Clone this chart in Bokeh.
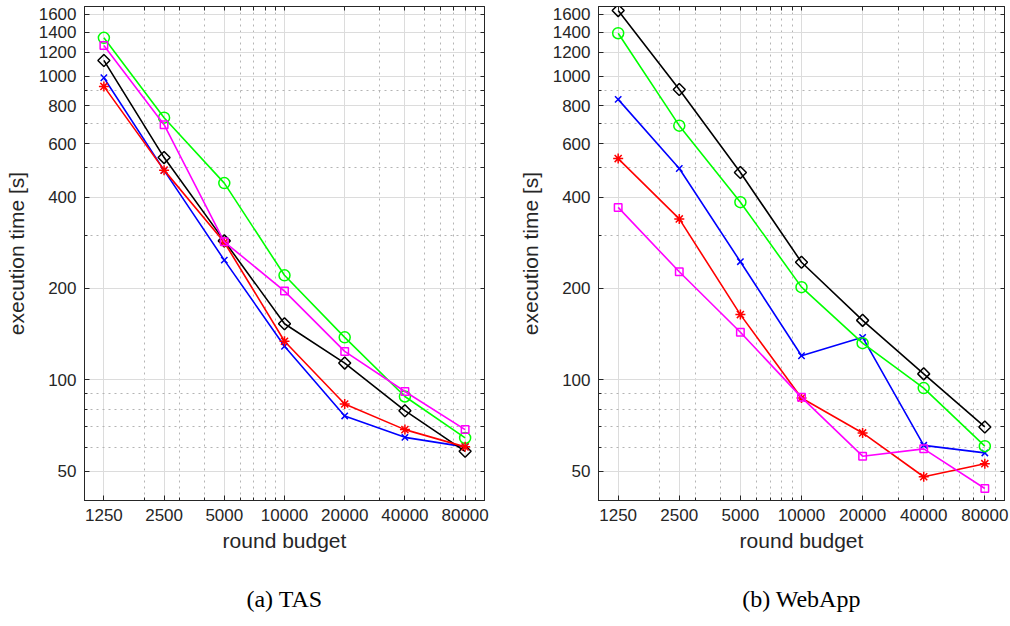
from bokeh.plotting import figure
from bokeh.layouts import row
from bokeh.models import FixedTicker, LogAxis, Title, Range1d, PrintfTickFormatter
from bokeh.embed import file_html
from bokeh.resources import INLINE

# ---------------- data ----------------
budgets = [1250, 2500, 5000, 10000, 20000, 40000, 80000]
x_tick_labels = ["1250", "2500", "5000", "10000", "20000", "40000", "80000"]
x_minor = [2000, 3000, 4000, 6000, 7000, 8000, 9000, 30000, 50000, 60000, 70000, 90000]
y_ticks = [50, 100, 200, 400, 600, 800, 1000, 1200, 1400, 1600]
y_tick_labels = ["50", "100", "200", "400", "600", "800", "1000", "1200", "1400", "1600"]
y_minor = [40, 60, 70, 80, 90, 300, 500, 700, 900]

# (a) TAS
tas_blue_x = [990, 490, 248, 129, 76, 64.6, 60.1]
tas_red_star = [927, 491, 284, 134, 83.2, 68.5, 60.1]
tas_green_circle = [1340, 731, 445, 221, 138, 88.1, 64.3]
tas_magenta_square = [1265, 693, 285, 196, 124, 91.5, 68.5]
tas_black_diamond = [1129, 540, 287, 153, 113.5, 79.1, 58.1]

# (b) WebApp
web_blue_x = [840, 497, 245, 120, 138, 60.8, 57.4]
web_red_star = [536, 339, 164, 87.1, 66.8, 47.9, 52.9]
web_green_circle = [1388, 688, 385, 202, 132, 93.9, 60.4]
web_magenta_square = [370, 227, 143.5, 87.5, 56, 59.2, 43.8]
web_black_diamond = [1648, 906, 482, 244, 157, 104.6, 69.9]

captions = ["(a) TAS", "(b) WebApp"]
x_label = "round budget"
y_label = "execution time [s]"

TXT = "#262626"
FONT = "Liberation Sans"


def make_panel(series, caption, border_left, frame_w, border_right):
    p = figure(x_axis_type="log", y_axis_type="log",
               x_range=Range1d(1000, 100000), y_range=Range1d(40, 1700),
               frame_width=frame_w, frame_height=494,
               min_border_left=border_left, min_border_right=border_right,
               min_border_top=6, min_border_bottom=126,
               output_backend="svg", toolbar_location=None,
               background_fill_color="white", border_fill_color="white")
    p.outline_line_color = TXT
    p.outline_line_width = 1

    xt = FixedTicker(ticks=budgets, minor_ticks=x_minor)
    yt = FixedTicker(ticks=y_ticks, minor_ticks=y_minor)

    for ax in p.xaxis:
        ax.ticker = xt
    for ax in p.yaxis:
        ax.ticker = yt
    p.xaxis.formatter = PrintfTickFormatter(format="%d")
    p.yaxis.formatter = PrintfTickFormatter(format="%d")
    p.xaxis.major_label_overrides = dict(zip(budgets, x_tick_labels))
    p.yaxis.major_label_overrides = dict(zip(y_ticks, y_tick_labels))

    for ax in list(p.xaxis) + list(p.yaxis):
        ax.axis_line_color = TXT
        ax.major_tick_line_color = TXT
        ax.minor_tick_line_color = TXT
        ax.major_tick_in = 5
        ax.major_tick_out = 0
        ax.minor_tick_in = 3
        ax.minor_tick_out = 0
        ax.major_label_text_font = FONT
        ax.major_label_text_font_size = "17px"
        ax.major_label_text_color = TXT
        ax.axis_label_text_font = FONT
        ax.axis_label_text_font_size = "21px"
        ax.axis_label_text_font_style = "normal"
        ax.axis_label_text_color = TXT

    p.xaxis.axis_label = x_label
    p.yaxis.axis_label = y_label
    p.xaxis.major_label_standoff = 8
    p.xaxis.axis_label_standoff = 5
    p.yaxis.major_label_standoff = 8
    p.yaxis.axis_label_standoff = 8

    # box axes on top / right: ticks only (all drawn as unlabeled minor ticks)
    for loc, major, minor in (("right", y_ticks, y_minor), ("above", budgets, x_minor)):
        a = LogAxis(ticker=FixedTicker(ticks=[], minor_ticks=sorted(major + minor)),
                    major_label_standoff=0, axis_line_color=TXT,
                    major_tick_line_color=None, minor_tick_line_color=TXT,
                    major_tick_in=0, major_tick_out=0, minor_tick_in=4, minor_tick_out=0)
        p.add_layout(a, loc)

    for g in (p.xgrid, p.ygrid):
        g.grid_line_color = "#dcdcdc"
        g.grid_line_width = 1
        g.minor_grid_line_color = "#b4b4b4"
        g.minor_grid_line_dash = "2 4"
        g.minor_grid_line_width = 1

    for vals, color, marker, size, angle in series:
        p.line(budgets, vals, line_color=color, line_width=1.6)
        p.scatter(budgets, vals, marker=marker, size=size, angle=angle,
                  line_color=color, fill_color=None, line_width=1.5)

    cap = Title(text=caption, align="center", text_font="Liberation Serif",
                text_font_size="24px", text_font_style="normal", text_color="black",
                standoff=59)
    p.add_layout(cap, "below")
    return p


def series_set(bx, rs, gc, ms, bd):
    return [
        (bx, "#0000ff", "x", 9, 0),
        (gc, "#00ff00", "circle", 11, 0),
        (bd, "#000000", "square", 8.5, 0.7853981634),
        (rs, "#ff0000", "asterisk", 10, 0),
        (ms, "#ff00ff", "square", 7.5, 0),
    ]


p1 = make_panel(series_set(tas_blue_x, tas_red_star, tas_green_circle, tas_magenta_square, tas_black_diamond),
                captions[0], 84, 400, 21)
p2 = make_panel(series_set(web_blue_x, web_red_star, web_green_circle, web_magenta_square, web_black_diamond),
                captions[1], 93, 406, 6)

layout = row(p1, p2)
open("out.html", "w").write(file_html(layout, INLINE))
